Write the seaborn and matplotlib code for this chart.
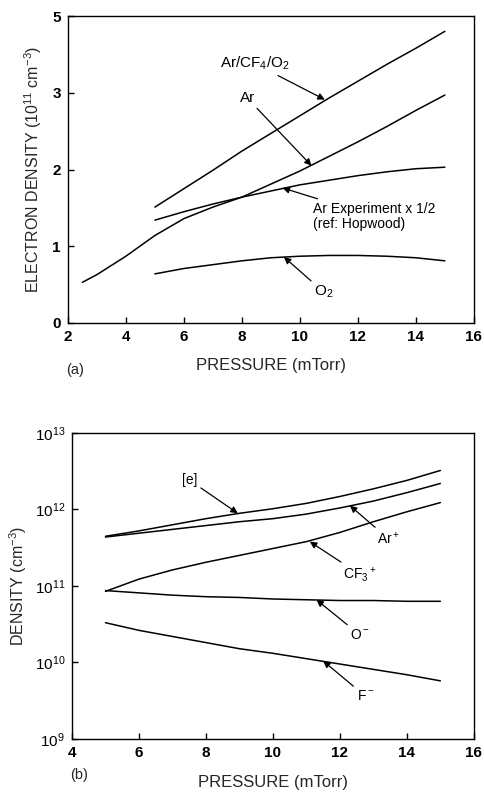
import numpy as np
import pandas as pd
import seaborn as sns
import matplotlib
matplotlib.use("Agg")
import matplotlib.pyplot as plt

# ---- panel (a): electron density, 10^11 cm^-3 ----
p_ar = [2.5, 3, 4, 5, 6, 7, 8, 9, 10, 11, 12, 13, 14, 15]
ne_ar = [0.53, 0.63, 0.87, 1.14, 1.36, 1.51, 1.64, 1.81, 1.98, 2.17, 2.36, 2.56, 2.77, 2.97]
p_a = [5, 6, 7, 8, 9, 10, 11, 12, 13, 14, 15]
ne_mix = [1.51, 1.75, 1.99, 2.24, 2.47, 2.70, 2.93, 3.15, 3.37, 3.58, 3.80]
ne_exp = [1.34, 1.45, 1.55, 1.64, 1.72, 1.80, 1.86, 1.92, 1.97, 2.01, 2.03]
ne_o2 = [0.64, 0.71, 0.76, 0.81, 0.85, 0.87, 0.88, 0.88, 0.87, 0.85, 0.81]
a_yticks = [0, 1, 2, 3, 4]
a_yticklabels = ["0", "1", "2", "3", "5"]
a_xticks = [2, 4, 6, 8, 10, 12, 14, 16]

# ---- panel (b): species densities (log10 cm^-3), Ar/CF4/O2 ----
p_b = [5, 6, 7, 8, 9, 10, 11, 12, 13, 14, 15]
log_e = [11.65, 11.72, 11.80, 11.88, 11.95, 12.01, 12.08, 12.17, 12.27, 12.38, 12.51]
log_arp = [11.64, 11.69, 11.74, 11.79, 11.84, 11.88, 11.94, 12.02, 12.11, 12.22, 12.34]
log_cf3p = [10.93, 11.09, 11.21, 11.31, 11.40, 11.49, 11.58, 11.70, 11.84, 11.97, 12.09]
log_om = [10.94, 10.91, 10.88, 10.86, 10.85, 10.83, 10.82, 10.81, 10.81, 10.80, 10.80]
log_fm = [10.52, 10.42, 10.34, 10.26, 10.18, 10.12, 10.05, 9.98, 9.91, 9.84, 9.76]
b_yticks = [1e9, 1e10, 1e11, 1e12, 1e13]
b_yticklabels = ["$10^{9}$", "$10^{10}$", "$10^{11}$", "$10^{12}$", "$10^{13}$"]
b_xticks = [4, 6, 8, 10, 12, 14, 16]

sns.set_theme(style="ticks")
plt.rcParams["font.family"] = ["Liberation Sans", "DejaVu Sans"]
plt.rcParams["mathtext.fontset"] = "custom"
plt.rcParams["mathtext.rm"] = "Liberation Sans"
plt.rcParams["mathtext.it"] = "Liberation Sans"
plt.rcParams["mathtext.bf"] = "Liberation Sans:bold"

df_a = pd.concat([
    pd.DataFrame({"p": p_ar, "n": ne_ar, "s": "Ar"}),
    pd.DataFrame({"p": p_a, "n": ne_mix, "s": "mix"}),
    pd.DataFrame({"p": p_a, "n": ne_exp, "s": "exp"}),
    pd.DataFrame({"p": p_a, "n": ne_o2, "s": "O2"}),
])
df_b = pd.concat([
    pd.DataFrame({"p": p_b, "n": 10.0 ** np.array(log_e), "s": "e"}),
    pd.DataFrame({"p": p_b, "n": 10.0 ** np.array(log_arp), "s": "Ar+"}),
    pd.DataFrame({"p": p_b, "n": 10.0 ** np.array(log_cf3p), "s": "CF3+"}),
    pd.DataFrame({"p": p_b, "n": 10.0 ** np.array(log_om), "s": "O-"}),
    pd.DataFrame({"p": p_b, "n": 10.0 ** np.array(log_fm), "s": "F-"}),
])

fig = plt.figure(figsize=(4.85, 7.93), dpi=100)
ax1 = fig.add_axes([0.140, 0.5927, 0.837, 0.3871])
ax2 = fig.add_axes([0.1485, 0.0681, 0.8285, 0.3859])

pal_a = {k: "black" for k in df_a["s"].unique()}
pal_b = {k: "black" for k in df_b["s"].unique()}
sns.lineplot(data=df_a, x="p", y="n", hue="s", palette=pal_a, ax=ax1,
             legend=False, linewidth=1.1, sort=True, estimator=None)
sns.lineplot(data=df_b, x="p", y="n", hue="s", palette=pal_b, ax=ax2,
             legend=False, linewidth=1.1, sort=True, estimator=None)

arrow = dict(arrowstyle="-|>", color="black", lw=0.9, mutation_scale=10,
             shrinkA=0, shrinkB=0)
tfont = dict(fontsize=10, color="black")

# panel (a) styling
ax1.set_xlim(2, 16)
ax1.set_ylim(0, 4)
ax1.set_xticks(a_xticks)
ax1.set_yticks(a_yticks)
ax1.set_yticklabels(a_yticklabels)
ax1.set_xlabel("PRESSURE (mTorr)", fontsize=12, labelpad=10)
ax1.set_ylabel("ELECTRON DENSITY ($\\mathregular{10^{11}\\ cm^{-3}}$)", fontsize=11.5, labelpad=6)
ax1.text(-0.005, -0.13, "(a)", transform=ax1.transAxes, fontsize=10.5, va="top")

ax1.annotate("Ar/CF$_4$/O$_2$", xy=(10.86, 2.91), xytext=(9.65, 3.38),
             ha="right", va="center", arrowprops=arrow, fontsize=11, color="black")
ax1.annotate("Ar", xy=(10.4, 2.05), xytext=(8.45, 2.93),
             ha="right", va="center", arrowprops=arrow, fontsize=11, color="black")
ax1.annotate("Ar Experiment x 1/2\n(ref: Hopwood)", xy=(9.4, 1.76), xytext=(10.45, 1.39),
             ha="left", va="center", arrowprops=arrow, linespacing=1.05, **tfont)
ax1.annotate("O$_2$", xy=(9.45, 0.86), xytext=(10.5, 0.40),
             ha="left", va="center", arrowprops=arrow, fontsize=11, color="black")

# panel (b) styling
ax2.set_yscale("log")
ax2.set_xlim(4, 16)
ax2.set_ylim(1e9, 1e13)
ax2.set_xticks(b_xticks)
ax2.set_yticks(b_yticks)
ax2.set_yticklabels(b_yticklabels)
ax2.yaxis.set_minor_locator(matplotlib.ticker.NullLocator())
ax2.set_xlabel("PRESSURE (mTorr)", fontsize=12, labelpad=11)
ax2.set_ylabel("DENSITY ($\\mathregular{cm^{-3}}$)", fontsize=11.5)
ax2.text(-0.005, -0.095, "(b)", transform=ax2.transAxes, fontsize=10.5, va="top")

ax2.annotate("[e]", xy=(8.95, 10 ** 11.95), xytext=(7.75, 10 ** 12.38),
             ha="right", va="center", arrowprops=arrow, **tfont)
ax2.annotate("Ar$^+$", xy=(12.3, 10 ** 12.05), xytext=(13.1, 10 ** 11.62),
             ha="left", va="center", arrowprops=arrow, **tfont)
ax2.annotate("CF$_3$$^+$", xy=(11.1, 10 ** 11.58), xytext=(12.1, 10 ** 11.15),
             ha="left", va="center", arrowprops=arrow, **tfont)
ax2.annotate("O$^-$", xy=(11.3, 10 ** 10.82), xytext=(12.3, 10 ** 10.36),
             ha="left", va="center", arrowprops=arrow, **tfont)
ax2.annotate("F$^-$", xy=(11.5, 10 ** 10.02), xytext=(12.5, 10 ** 9.56),
             ha="left", va="center", arrowprops=arrow, **tfont)

for ax in (ax1, ax2):
    for sp in ax.spines.values():
        sp.set_color("black")
        sp.set_linewidth(1.0)
    ax.tick_params(direction="in", length=4, width=1, colors="black",
                   labelsize=11, pad=5)
    for lab in ax.get_xticklabels() + ax.get_yticklabels():
        lab.set_fontweight("bold")

fig.savefig("out.png", dpi=100, facecolor="white")
